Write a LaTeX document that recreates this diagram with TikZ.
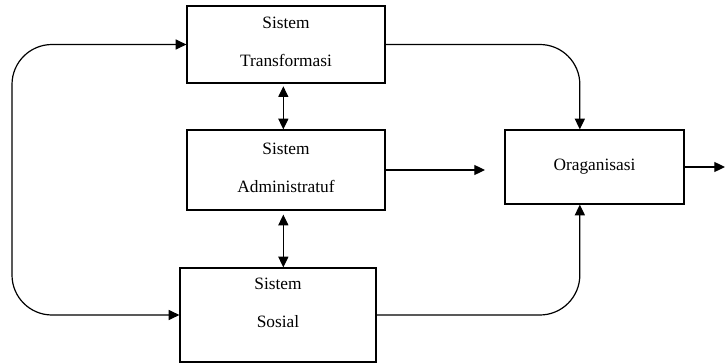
\documentclass[tikz,border=0pt]{standalone}
\usepackage{fontspec}
\setmainfont{Liberation Serif}
\usetikzlibrary{arrows.meta}
\begin{document}
\begin{tikzpicture}[x=0.75pt, y=-0.75pt, line width=0.9pt,
    >={Triangle[length=8pt, width=7.5pt]},
    kotak/.style={draw, line width=0.9pt, align=center, inner sep=0pt,
      font=\fontsize{13}{15.6}\selectfont}]
  \useasboundingbox (0,0) rectangle (726,364);
  % kotak-kotak
  \node[kotak, minimum width=148.5pt, minimum height=57.75pt, text depth=4pt] (trans) at (286,44.5) {Sistem\\[13pt]Transformasi};
  \node[kotak, minimum width=148.5pt, minimum height=60pt, text depth=4pt] (admin) at (286,170) {Sistem\\[13pt]Administratuf};
  \node[kotak, minimum width=147pt, minimum height=70.5pt, text depth=19pt] (sosial) at (278,315) {Sistem\\[13pt]Sosial};
  \node[kotak, minimum width=134.25pt, minimum height=55.5pt] (org) at (594.5,167) {Oraganisasi};
  \coordinate (kiri) at (12,0);
  \coordinate (adminout) at (485,0);
  \coordinate (orgout) at (725,0);
  % panah
  \draw[<->, rounded corners=30pt] (trans.west) -- (trans.west -| kiri) -- (sosial.west -| kiri) -- (sosial.west);
  \draw[->, rounded corners=30pt] (trans.east) -| ([xshift=-11pt]org.north);
  \draw[->, rounded corners=30pt] (sosial.east) -| ([xshift=-11pt]org.south);
  \draw[->] (admin.east) -- (admin.east -| adminout);
  \draw[->] (org.east) -- (org.east -| orgout);
  \draw[<->, shorten <=2pt] ([xshift=-2pt]trans.south) -- ([xshift=-2pt]admin.north);
  \draw[<->, shorten <=3pt] ([xshift=-2pt]admin.south) -- ([xshift=-2pt]sosial.north -| admin.south);
\end{tikzpicture}
\end{document}
